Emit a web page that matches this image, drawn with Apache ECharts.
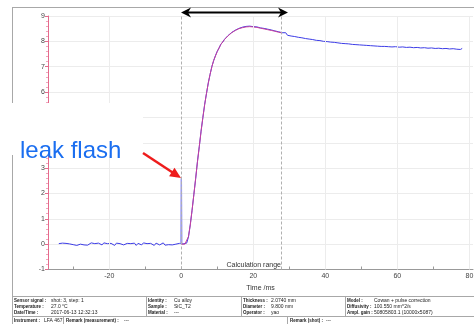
<!DOCTYPE html>
<html>
<head>
<meta charset="utf-8">
<script src="https://cdn.jsdelivr.net/npm/echarts@6/dist/echarts.min.js"></script>
<style>
  html, body { margin: 0; padding: 0; background: #fff; }
  #chart { width: 474px; height: 324px; }
</style>
</head>
<body>
<div id="chart"></div>
<script>
// axis ticks / labels (ms)
const xLabelValues = [-20, 0, 20, 40, 60, 80];
const xTickValues = [-30, -20, -10, 0, 10, 20, 30, 40, 50, 60, 70, 80];
const xGridValues = [-20, 20, 40, 60, 80];
const calcRange = [0, 27.8];

// measured detector signal, 0.5 ms sampling
const sampleStep = 0.5;
const baseStart = -34;
const baseValues = [
  0.02, -0.03, 0.04, -0.01, 0.03, -0.04, 0.01, 0.05, -0.02, 0.03, -0.05, 0.02, 0.00, 0.04,
  -0.03, 0.01, -0.04, 0.03, 0.05, -0.02, 0.02, -0.05, 0.04, 0.00, -0.03, 0.05, -0.01, 0.02,
  -0.04, 0.03, 0.01, -0.05, 0.04, -0.02, 0.02, 0.05, -0.03, 0.00, 0.03, -0.04, 0.02, -0.01,
  0.04, -0.05, 0.03, 0.01, -0.03, 0.05, -0.02, 0.02, -0.04, 0.03, 0.00, -0.05, 0.04, 0.01,
  -0.03, 0.02, 0.05, -0.04, 0.01, -0.02, 0.04, -0.03, 0.02, 0.00, -0.04, 0.03, 0.01
];
const spikeTime = [-0.1, 0, 0.15];
const spikeValue = [0.02, 2.6, 0.03];
const sigStart = 0.5;
const sigValues = [
  0.01, -0.02, 0.04, 0.28, 0.77, 1.33, 1.97, 2.58, 3.27, 3.84, 4.46, 4.99, 5.52, 5.94,
  6.36, 6.69, 7.01, 7.24, 7.44, 7.61, 7.74, 7.89, 7.97, 8.08, 8.14, 8.23, 8.27, 8.35,
  8.37, 8.44, 8.46, 8.51, 8.50, 8.56, 8.54, 8.59, 8.55, 8.60, 8.56, 8.58, 8.54, 8.57,
  8.52, 8.53, 8.49, 8.51, 8.46, 8.48, 8.43, 8.45, 8.40, 8.41, 8.36, 8.38, 8.33, 8.34,
  8.29, 8.34, 8.24, 8.29, 8.21, 8.27, 8.19, 8.25, 8.16, 8.22, 8.14, 8.20, 8.11, 8.17,
  8.09, 8.15, 8.07, 8.13, 8.04, 8.11, 8.03, 8.08, 8.00, 8.07, 7.99, 8.05, 7.97, 8.04,
  7.96, 8.01, 7.94, 8.00, 7.92, 7.99, 7.91, 7.97, 7.90, 7.96, 7.88, 7.95, 7.87, 7.93,
  7.86, 7.92, 7.85, 7.91, 7.84, 7.90, 7.83, 7.89, 7.82, 7.88, 7.81, 7.88, 7.80, 7.87,
  7.80, 7.86, 7.79, 7.86, 7.78, 7.85, 7.79, 7.84, 7.77, 7.84, 7.78, 7.83, 7.76, 7.83,
  7.77, 7.82, 7.75, 7.82, 7.76, 7.81, 7.74, 7.81, 7.75, 7.80, 7.73, 7.80, 7.74, 7.79,
  7.72, 7.78, 7.73, 7.78, 7.71, 7.77, 7.72, 7.76, 7.70, 7.76, 7.71, 7.75, 7.69, 7.74,
  7.68, 7.72
];

// Cowan + pulse correction model
const fitTime = [0, 1, 1.5, 2, 2.5, 3, 3.5, 4, 4.5, 5, 5.5, 6, 6.5, 7, 7.5, 8, 8.5, 9,
  10, 11, 12, 13, 14, 15, 16, 17, 18, 19, 20, 21, 22, 23, 24, 25, 26, 27, 28];
const fitValue = [0, 0, 0.05, 0.3, 0.75, 1.35, 1.95, 2.6, 3.25, 3.85, 4.45, 5.0, 5.5, 5.95,
  6.35, 6.7, 7.0, 7.25, 7.6, 7.88, 8.07, 8.22, 8.34, 8.43, 8.5, 8.54, 8.57, 8.58, 8.57,
  8.55, 8.52, 8.49, 8.46, 8.43, 8.40, 8.36, 8.33];

// info table below the plot
const tableRows = [
  [["Sensor signal :", "shot: 3, step: 1"], ["Identity :", "Cu alloy"], ["Thickness :", "2.0740 mm"], ["Model :", "Cowan + pulse correction"]],
  [["Temperature :", "27.0 °C"], ["Sample :", "SiC_T2"], ["Diameter :", "9.800 mm"], ["Diffusivity :", "100.550 mm^2/s"]],
  [["Date/Time :", "2017-06-13 12:32:13"], ["Material :", "---"], ["Operator :", "yao"], ["Ampl. gain :", "50805803.1 (10000x5087)"]]
];
const lastRow = [["Instrument :", "LFA 467"], ["Remark (measurement) :", "---"], ["Remark (shot) :", "---"]];

const measured = baseValues.map((v, i) => [baseStart + i * sampleStep, v])
  .concat(sigValues.map((v, i) => [sigStart + i * sampleStep, v]));
const spike = spikeTime.map((t, i) => [t, spikeValue[i]]);
const fit = fitTime.map((t, i) => [t, fitValue[i]]);

const chart = echarts.init(document.getElementById("chart"));

const font = "Liberation Sans";
const labelFont = "bold 4.5px " + font;
const valueFont = "5px " + font;
const colX = [[14, 51], [148, 174], [243, 271], [347, 374]];
const rowY = [301, 307, 313];
const tableText = [];
tableRows.forEach((row, r) => {
  row.forEach((cell, c) => {
    tableText.push({ type: "text", x: colX[c][0], y: rowY[r], z: 50,
      style: { text: cell[0], font: labelFont, fill: "#222", textVerticalAlign: "middle" } });
    tableText.push({ type: "text", x: colX[c][1], y: rowY[r], z: 50,
      style: { text: cell[1], font: valueFont, fill: "#222", textVerticalAlign: "middle" } });
  });
});
const lastX = [[14, 44], [66, 124], [290, 326]];
lastRow.forEach((cell, c) => {
  tableText.push({ type: "text", x: lastX[c][0], y: 321, z: 50,
    style: { text: cell[0], font: labelFont, fill: "#222", textVerticalAlign: "middle" } });
  tableText.push({ type: "text", x: lastX[c][1], y: 321, z: 50,
    style: { text: cell[1], font: valueFont, fill: "#222", textVerticalAlign: "middle" } });
});

const frame = { stroke: "#a8a8a8", lineWidth: 1 };
const option = {
  animation: false,
  grid: { left: 48, top: 16, width: 425, height: 253.5, outerBoundsMode: "none" },
  xAxis: {
    type: "value",
    min: -37,
    max: 81,
    name: "Time /ms",
    nameLocation: "middle",
    nameGap: 13,
    nameTextStyle: { fontSize: 7, color: "#333", fontFamily: font },
    axisLine: { onZero: false, lineStyle: { color: "#999", width: 1 } },
    axisTick: { customValues: xTickValues, inside: true, length: 3, lineStyle: { color: "#999" } },
    axisLabel: { customValues: xLabelValues, fontSize: 7, color: "#444", margin: 3, fontFamily: font },
    splitLine: { show: false }
  },
  yAxis: {
    type: "value",
    min: -1,
    max: 9,
    interval: 1,
    axisLine: { show: true, onZero: false, lineStyle: { color: "#e46a8c", width: 1 } },
    axisTick: { show: true, length: 3, lineStyle: { color: "#e46a8c" } },
    minorTick: { show: true, splitNumber: 5, length: 2, lineStyle: { color: "#f2a6bd" } },
    axisLabel: { fontSize: 7, color: "#444", margin: 3, fontFamily: font },
    splitLine: { lineStyle: { color: "#ececec", width: 1 } }
  },
  series: [
    {
      type: "line",
      data: [],
      silent: true,
      z: 1,
      markLine: {
        silent: true,
        symbol: "none",
        label: { show: false },
        lineStyle: { type: "solid", color: "#ececec", width: 1 },
        data: xGridValues.map((v) => ({ xAxis: v }))
      }
    },
    {
      type: "line",
      data: [],
      silent: true,
      z: 2,
      markLine: {
        silent: true,
        symbol: "none",
        label: { show: false },
        lineStyle: { type: [3, 2], color: "#b0b0b0", width: 1 },
        data: calcRange.map((v) => ({ xAxis: v }))
      }
    },
    {
      type: "line",
      data: measured,
      showSymbol: false,
      z: 3,
      lineStyle: { color: "#3c3ce6", width: 1 }
    },
    {
      type: "line",
      data: spike,
      showSymbol: false,
      z: 3,
      lineStyle: { color: "#9c9cf2", width: 1.5 }
    },
    {
      type: "line",
      data: fit,
      showSymbol: false,
      z: 4,
      lineStyle: { color: "#c8409c", width: 1 }
    }
  ],
  graphic: [
    { type: "line", shape: { x1: 12, y1: 7.5, x2: 474, y2: 7.5 }, style: frame, z: 50 },
    { type: "line", shape: { x1: 12.5, y1: 7, x2: 12.5, y2: 324 }, style: frame, z: 50 },
    { type: "line", shape: { x1: 12, y1: 296.5, x2: 474, y2: 296.5 }, style: frame, z: 50 },
    { type: "line", shape: { x1: 12, y1: 316.5, x2: 474, y2: 316.5 }, style: frame, z: 50 },
    { type: "line", shape: { x1: 146.5, y1: 296, x2: 146.5, y2: 316.5 }, style: frame, z: 50 },
    { type: "line", shape: { x1: 241.5, y1: 296, x2: 241.5, y2: 316.5 }, style: frame, z: 50 },
    { type: "line", shape: { x1: 345.5, y1: 296, x2: 345.5, y2: 316.5 }, style: frame, z: 50 },
    { type: "line", shape: { x1: 63.5, y1: 316.5, x2: 63.5, y2: 324 }, style: frame, z: 50 },
    { type: "line", shape: { x1: 287.5, y1: 316.5, x2: 287.5, y2: 324 }, style: frame, z: 50 },
    ...tableText,
    { type: "text", x: 281, y: 265, z: 50,
      style: { text: "Calculation range", font: "7px " + font, fill: "#333", textAlign: "right", textVerticalAlign: "middle" } },
    // top double arrow over the calculation range
    { type: "line", shape: { x1: 186, y1: 12.5, x2: 283, y2: 12.5 }, style: { stroke: "#000", lineWidth: 2 }, z: 60 },
    { type: "polygon", shape: { points: [[181, 12.5], [191, 7.5], [188, 12.5], [191, 17.5]] }, style: { fill: "#000" }, z: 60 },
    { type: "polygon", shape: { points: [[288, 12.5], [278, 7.5], [281, 12.5], [278, 17.5]] }, style: { fill: "#000" }, z: 60 },
    // annotation overlay
    { type: "rect", shape: { x: 0, y: 103, width: 143, height: 52 }, style: { fill: "#fff" }, z: 100 },
    { type: "text", x: 20, y: 139, z: 101,
      style: { text: "leak flash", font: "24px " + font, fill: "#1a6ef0", textVerticalAlign: "alphabetic" } },
    { type: "line", shape: { x1: 143, y1: 153, x2: 173, y2: 172.7 }, style: { stroke: "#ee1c1c", lineWidth: 2.5 }, z: 101 },
    { type: "polygon", shape: { points: [[181, 178], [169.1, 176.2], [174.5, 167.8]] }, style: { fill: "#ee1c1c" }, z: 101 }
  ]
};

chart.setOption(option);
window.addEventListener("resize", chart.resize);
</script>
</body>
</html>
